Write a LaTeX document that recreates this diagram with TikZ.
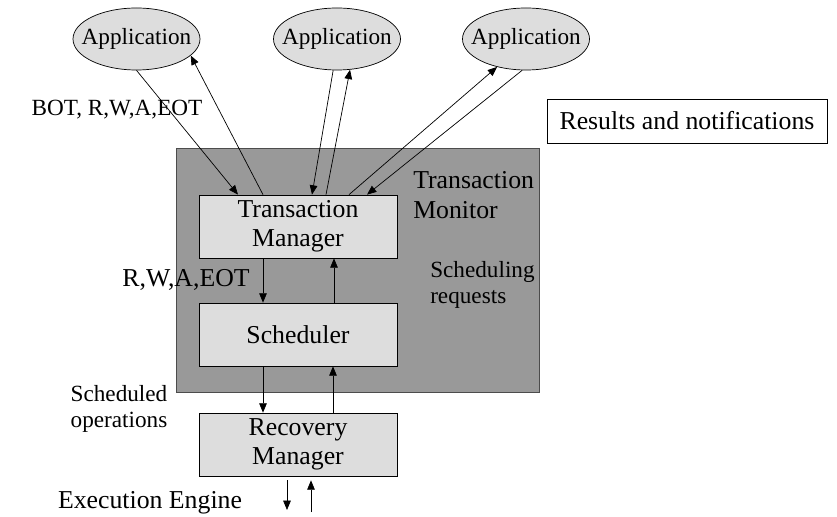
\documentclass[tikz,border=0pt]{standalone}
\usepackage{fontspec}
\setmainfont{Liberation Serif}
\usetikzlibrary{shapes.geometric,arrows.meta,calc}
\definecolor{boxgray}{HTML}{DDDDDD}
\definecolor{monitorgray}{HTML}{999999}
\begin{document}
\begin{tikzpicture}[x=0.03cm,y=-0.03cm,
  big/.style={font=\fontsize{22}{25}\selectfont},
  small/.style={font=\fontsize{19.8}{22.5}\selectfont},
  app/.style={ellipse,draw,fill=boxgray,small,inner ysep=0pt,inner xsep=-9pt,minimum width=3.81cm,minimum height=1.86cm},
  comp/.style={rectangle,draw,fill=boxgray,big,align=center,inner sep=0pt,minimum width=5.94cm,minimum height=1.89cm},
  >={Triangle[length=8pt,width=6.5pt]}, line width=0.6pt]
\useasboundingbox (0,0) rectangle (837,517);
\node[draw=black!70,fill=monitorgray,minimum width=10.89cm,minimum height=7.32cm] (mon) at (357.5,270) {};
\node[app] (app1) at (136.5,39) {Application};
\node[app] (app2) at (337,39) {Application};
\node[app] (app3) at (526,39) {Application};
\node[comp] (tm) at (298,226.5) {Transaction\\Manager};
\node[comp] (sched) at (298,334.5) {Scheduler};
\node[comp] (rm) at (298,444.5) {Recovery\\Manager};
\node[draw,fill=white,big,minimum width=8.4cm,minimum height=1.32cm] (res) at (687,121) {Results and notifications};
\node[small] (bot) at (117,110) {BOT, R,W,A,EOT};
\node[big,align=left,anchor=west] (monlabel) at (409,195) {Transaction\\Monitor};
\node[small,align=left,anchor=west] (schedreq) at (426,285) {Scheduling\\requests};
\node[big] (ops) at (186,280) {R,W,A,EOT};
\node[small,align=center] (schedops) at (119,409) {Scheduled\\operations};
\node[big] (engine) at (150,503) {Execution Engine};
\coordinate (engout) at (287,510);
\coordinate (engin) at (311,512);
\draw[->] (app1.south) to ($(tm.north)+(-60,0)$);
\draw[->] ($(tm.north)+(-35,0)$) to (app1.-17);
\draw[->] (app2.263) to ($(tm.north)+(14,0)$);
\draw[->] ($(tm.north)+(28,0)$) to (app2.-67);
\draw[->] ($(tm.north)+(51,0)$) to (app3.224);
\draw[->] (app3.263) to ($(tm.north)+(69,0)$);
\draw[->] ($(tm.south)+(-35,0)$) to ($(sched.north)+(-35,0)$);
\draw[->] ($(sched.north)+(36,0)$) to ($(tm.south)+(36,0)$);
\draw[->] ($(sched.south)+(-35,0)$) to ($(rm.north)+(-35,0)$);
\draw[->] ($(rm.north)+(35,0)$) to ($(sched.south)+(35,0)$);
\draw[->] ($(rm.south)+(-11,4)$) to (engout);
\draw[->] (engin) to ($(rm.south)+(13,4)$);
\end{tikzpicture}
\end{document}
